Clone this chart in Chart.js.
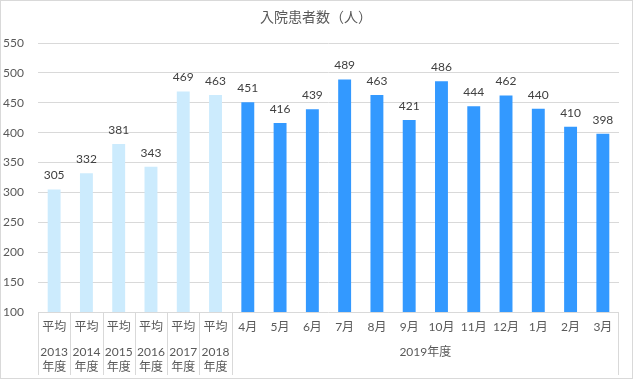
<!DOCTYPE html>
<html><head><meta charset="utf-8">
<script src="https://cdn.jsdelivr.net/npm/chart.js@4/dist/chart.umd.min.js"></script>
<style>html,body{margin:0;padding:0;background:#fff}canvas{display:block}</style>
</head><body>
<canvas id="c" width="634" height="380"></canvas>
<script>
const chartTitle = '入院患者数（人）';
const categories = ['平均','平均','平均','平均','平均','平均','4月','5月','6月','7月','8月','9月','10月','11月','12月','1月','2月','3月'];
const yearLabels = ['2013','2014','2015','2016','2017','2018'];
const yearSuffix = '年度';
const groupLabel = '2019年度';
const values = [305,332,381,343,469,463,451,416,439,489,463,421,486,444,462,440,410,398];
const yMin = 100, yMax = 550, yStep = 50;

const FONT = "Lato, 'Noto Sans CJK JP', sans-serif";
const LIGHT = '#CCEBFD', BLUE = '#3399FF', GRID = '#D9D9D9', TXT = '#595959';

const deco = {
  id: 'deco',
  afterDraw(chart) {
    const ctx = chart.ctx, xs = chart.scales.x, ys = chart.scales.y, ca = chart.chartArea;
    const half = (xs.getPixelForValue(1) - xs.getPixelForValue(0)) / 2;
    ctx.save();
    // title
    ctx.fillStyle = TXT;
    ctx.font = "14px 'Noto Sans CJK JP', sans-serif";
    ctx.textAlign = 'center'; ctx.textBaseline = 'middle';
    ctx.fillText(chartTitle, 316, 17);
    // data labels
    ctx.font = '12px ' + FONT;
    ctx.fillStyle = '#404040';
    values.forEach((v, i) => {
      ctx.fillText(String(v), xs.getPixelForValue(i), ys.getPixelForValue(v) - 14);
    });
    // category labels
    ctx.fillStyle = TXT;
    categories.forEach((c, i) => {
      ctx.fillText(c, xs.getPixelForValue(i), 327);
    });
    yearLabels.forEach((y, i) => {
      const x = xs.getPixelForValue(i);
      ctx.fillText(y, x, 352);
      ctx.fillText(yearSuffix, x, 367);
    });
    const gx = (xs.getPixelForValue(6) - half + ca.right) / 2;
    ctx.fillText(groupLabel, gx, 352);
    // separators
    ctx.strokeStyle = GRID; ctx.lineWidth = 1;
    ctx.beginPath();
    for (let i = 0; i <= 6; i++) {
      const x = Math.round(xs.getPixelForValue(i) - half) + 0.5;
      ctx.moveTo(x, ca.bottom); ctx.lineTo(x, 375);
    }
    const xr = Math.round(ca.right) - 0.5;
    ctx.moveTo(xr, ca.bottom); ctx.lineTo(xr, 375);
    ctx.stroke();
    // outer border
    ctx.strokeRect(0.5, 0.5, chart.width - 2, chart.height - 2);
    ctx.restore();
  }
};

new Chart(document.getElementById('c'), {
  type: 'bar',
  data: {
    labels: categories,
    datasets: [{
      data: values,
      backgroundColor: values.map((v, i) => i < yearLabels.length ? LIGHT : BLUE),
      barPercentage: 0.4,
      categoryPercentage: 1.0
    }]
  },
  options: {
    responsive: false,
    animation: false,
    devicePixelRatio: 1,
    layout: { padding: { top: 43, right: 15, left: 0, bottom: 0 } },
    plugins: { legend: { display: false }, tooltip: { enabled: false }, title: { display: false } },
    scales: {
      x: {
        grid: { display: false },
        border: { display: false },
        ticks: { display: false },
        afterFit(s) { s.height = 68; }
      },
      y: {
        min: yMin, max: yMax,
        grid: { color: GRID, drawTicks: false },
        border: { display: false },
        ticks: { stepSize: yStep, padding: 14, color: TXT, font: { size: 12, family: FONT } },
        afterFit(s) { s.width = 38; }
      }
    }
  },
  plugins: [deco]
});
</script>
</body></html>
